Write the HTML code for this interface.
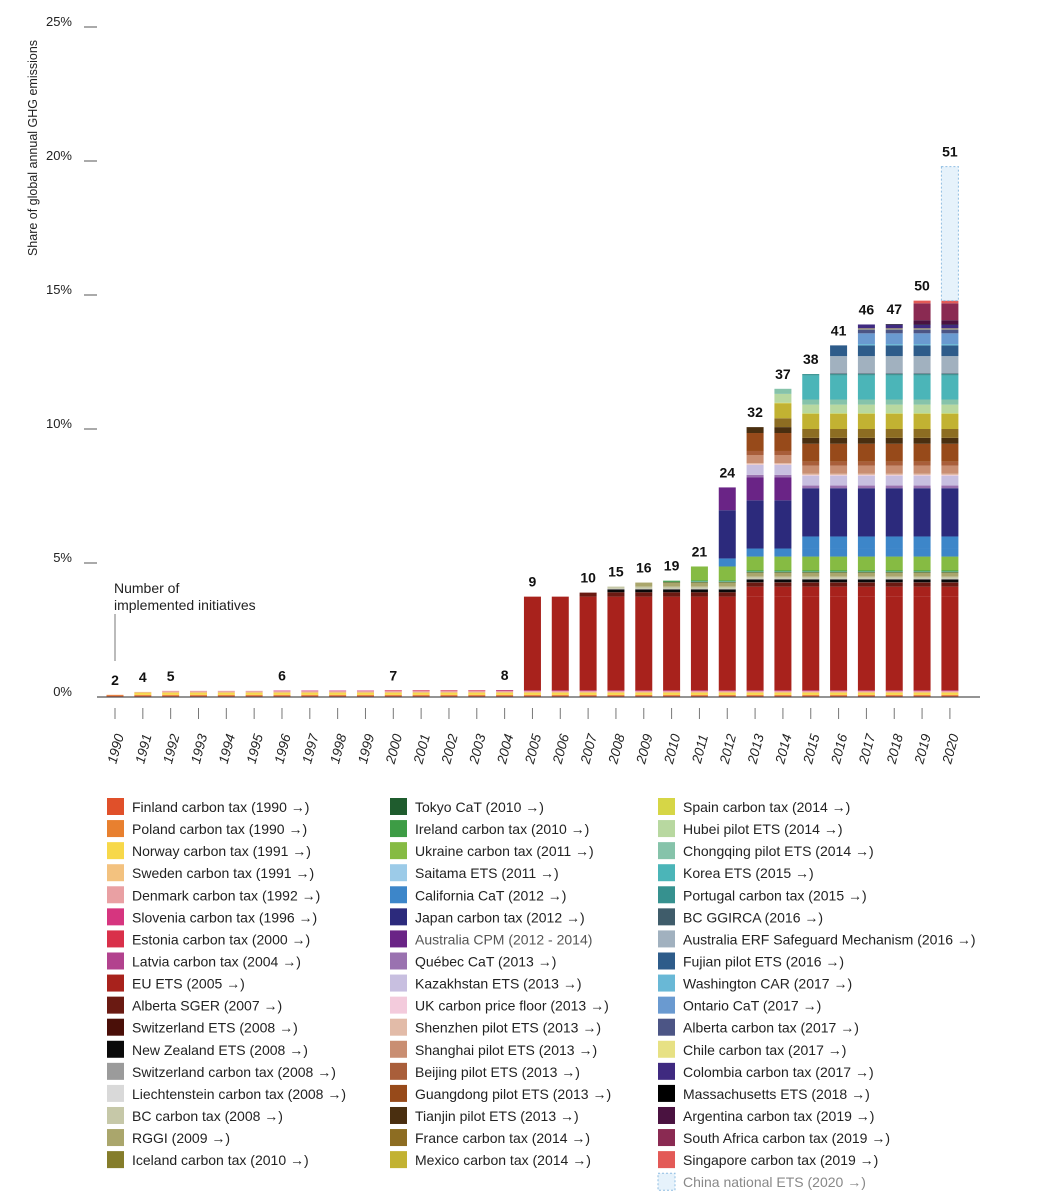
<!DOCTYPE html>
<html><head><meta charset="utf-8">
<style>
body{margin:0;background:#fff;font-family:"Liberation Sans",sans-serif;}
#chart{position:absolute;left:0;top:0;}
</style></head>
<body>
<svg id="chart" width="1059" height="1200" xmlns="http://www.w3.org/2000/svg"></svg>
<script>
const years = [1990,1991,1992,1993,1994,1995,1996,1997,1998,1999,2000,2001,2002,2003,2004,2005,2006,2007,2008,2009,2010,2011,2012,2013,2014,2015,2016,2017,2018,2019,2020];
const counts = [2,4,5,null,null,null,6,null,null,null,7,null,null,null,8,9,null,10,15,16,19,21,24,32,37,38,41,46,47,50,51];
const yTicks = [0,5,10,15,20,25];
// stacked series (bottom-up): name, color, start year, end year, share (% of global GHG)
const seriesNames = ["Finland","Poland","Norway","Sweden","Denmark","Slovenia","Estonia","Latvia","EU ETS","EU ETS 2013 expansion","Alberta SGER","Switzerland ETS","New Zealand ETS","Switzerland tax","Liechtenstein","BC tax","RGGI","Iceland","Tokyo","Saitama","Ireland","Ukraine","California","California 2015 expansion","Japan","Australia CPM","Quebec","Kazakhstan","UK","Shenzhen","Shanghai","Beijing","Guangdong","Tianjin","France","Mexico","Spain","Hubei","Chongqing","Korea","Portugal","BC GGIRCA","Australia ERF","Fujian","Washington","Ontario","Alberta tax","Chile","Colombia","Massachusetts","Argentina","South Africa","Singapore","China"];
const seriesColors = ["#e0502a","#e8802f","#f7d84a","#f3c27f","#e9a0a3","#d6357f","#d9304a","#b2428e","#a8221c","#a8221c","#6a1a12","#4a0f08","#0a0a0a","#9b9b9b","#d9d9d9","#c6c8a8","#aaa66c","#857d2b","#1f5c2e","#9ccbe8","#3d9c45","#86bb43","#3d86c9","#3d86c9","#2c2a7c","#6a2486","#9a72b0","#c8bfe0","#f3cbdc","#e2bba8","#c98e72","#a95e3a","#974a1a","#4a2f10","#8d6d22","#c2b232","#d6d646","#b8d8a0","#86c3aa","#4bb5b8","#36918f","#3f5c6a","#a1b1bf","#2e5c8a","#69b8d6","#6a9ad0","#4c5585","#e7e184","#3f2a80","#000000","#4a1240","#8a2a52","#e35a57","#e6f2fb"];
const seriesStart = [1990,1990,1991,1991,1992,1996,2000,2004,2005,2013,2007,2008,2008,2008,2008,2008,2009,2010,2010,2011,2010,2011,2012,2015,2012,2012,2013,2013,2013,2013,2013,2013,2013,2013,2014,2014,2014,2014,2014,2015,2015,2016,2016,2016,2017,2017,2017,2017,2017,2018,2019,2019,2019,2020];
const seriesEnd = [2020,2020,2020,2020,2020,2020,2020,2020,2020,2020,2020,2020,2020,2020,2020,2020,2020,2020,2020,2020,2020,2020,2020,2020,2020,2014,2020,2020,2020,2020,2020,2020,2020,2020,2020,2020,2020,2020,2020,2020,2020,2020,2020,2020,2020,2020,2020,2020,2020,2020,2020,2020,2020,2020];
const seriesShare = [0.05,0.03,0.07,0.04,0.04,0.01,0.01,0.005,3.49,0.37,0.15,0.02,0.1,0.02,0.005,0.08,0.15,0.01,0.02,0.01,0.04,0.52,0.3,0.45,1.8,0.85,0.1,0.37,0.02,0.05,0.3,0.15,0.67,0.22,0.33,0.56,0.02,0.33,0.19,0.9,0.05,0.02,0.65,0.4,0.05,0.4,0.15,0.03,0.15,0.01,0.15,0.63,0.1,5.0];
const legendNames = ["Finland carbon tax (1990 →)","Poland carbon tax (1990 →)","Norway carbon tax (1991 →)","Sweden carbon tax (1991 →)","Denmark carbon tax (1992 →)","Slovenia carbon tax (1996 →)","Estonia carbon tax (2000 →)","Latvia carbon tax (2004 →)","EU ETS (2005 →)","Alberta SGER (2007 →)","Switzerland ETS (2008 →)","New Zealand ETS (2008 →)","Switzerland carbon tax (2008 →)","Liechtenstein carbon tax (2008 →)","BC carbon tax (2008 →)","RGGI (2009 →)","Iceland carbon tax (2010 →)",
"Tokyo CaT (2010 →)","Ireland carbon tax (2010 →)","Ukraine carbon tax (2011 →)","Saitama ETS (2011 →)","California CaT (2012 →)","Japan carbon tax (2012 →)","Australia CPM (2012 - 2014)","Québec CaT (2013 →)","Kazakhstan ETS (2013 →)","UK carbon price floor (2013 →)","Shenzhen pilot ETS (2013 →)","Shanghai pilot ETS (2013 →)","Beijing pilot ETS (2013 →)","Guangdong pilot ETS (2013 →)","Tianjin pilot ETS (2013 →)","France carbon tax (2014 →)","Mexico carbon tax (2014 →)",
"Spain carbon tax (2014 →)","Hubei pilot ETS (2014 →)","Chongqing pilot ETS (2014 →)","Korea ETS (2015 →)","Portugal carbon tax (2015 →)","BC GGIRCA (2016 →)","Australia ERF Safeguard Mechanism (2016 →)","Fujian pilot ETS (2016 →)","Washington CAR (2017 →)","Ontario CaT (2017 →)","Alberta carbon tax (2017 →)","Chile carbon tax (2017 →)","Colombia carbon tax (2017 →)","Massachusetts ETS (2018 →)","Argentina carbon tax (2019 →)","South Africa carbon tax (2019 →)","Singapore carbon tax (2019 →)","China national ETS (2020 →)"];
const legendColors = ["#e0502a","#e8802f","#f7d84a","#f3c27f","#e9a0a3","#d6357f","#d9304a","#b2428e","#a8221c","#6a1a12","#4a0f08","#0a0a0a","#9b9b9b","#d9d9d9","#c6c8a8","#aaa66c","#857d2b",
"#1f5c2e","#3d9c45","#86bb43","#9ccbe8","#3d86c9","#2c2a7c","#6a2486","#9a72b0","#c8bfe0","#f3cbdc","#e2bba8","#c98e72","#a95e3a","#974a1a","#4a2f10","#8d6d22","#c2b232",
"#d6d646","#b8d8a0","#86c3aa","#4bb5b8","#36918f","#3f5c6a","#a1b1bf","#2e5c8a","#69b8d6","#6a9ad0","#4c5585","#e7e184","#3f2a80","#000000","#4a1240","#8a2a52","#e35a57","#e6f2fb"];

const NS="http://www.w3.org/2000/svg";
const svg=document.getElementById('chart');
const Y0=697, PX=26.8, X0=115, STEP=27.83, BW=17;
const yScale=v=>Y0-v*PX;
const xScale=yr=>X0+(yr-1990)*STEP;
function mk(tag,attrs,parent){const e=document.createElementNS(NS,tag);for(const k in attrs)e.setAttribute(k,attrs[k]);(parent||svg).appendChild(e);return e;}

// y axis
yTicks.forEach(t=>{
  const g=mk('g',{});
  
  
  const y=yScale(t);
  if(t>0){mk('line',{x1:84,x2:97,y1:y,y2:y,stroke:'#555','stroke-width':1},g);}
  const tx=mk('text',{x:72,y:y-1,'text-anchor':'end','font-size':13,fill:'#222'},g);
  tx.textContent=t+'%';
});
const yt=mk('text',{x:0,y:0,transform:'translate(37,148) rotate(-90)','text-anchor':'middle','font-size':12.5,fill:'#222'});


yt.textContent='Share of global annual GHG emissions';

// bars
years.forEach((yr,i)=>{
  const g=mk('g',{});
  
  
  let cum=0;
  seriesNames.forEach((nm,s)=>{
    if(yr<seriesStart[s]||yr>seriesEnd[s])return;
    const v=seriesShare[s];
    const yTop=yScale(cum+v), yBot=yScale(cum);
    const r=mk('rect',{x:xScale(yr)-BW/2,y:yTop,width:BW,height:Math.max(yBot-yTop,0.5),fill:seriesColors[s]},g);
    if(nm==='China'){r.setAttribute('stroke','#8fbde2');r.setAttribute('stroke-dasharray','2,2');r.setAttribute('stroke-width','1');}
    
    
    cum+=v;
  });
  if(counts[i]!==null){
    const c=mk('text',{x:xScale(yr),y:yScale(cum)-10,'text-anchor':'middle','font-size':14,'font-weight':'bold',fill:'#111'});
    
    
    c.textContent=counts[i];
  }
  const tk=mk('line',{x1:xScale(yr),x2:xScale(yr),y1:708,y2:719,stroke:'#777','stroke-width':1});
  
  
  const lb=mk('text',{x:0,y:0,transform:'translate('+(xScale(yr)+5)+',750) rotate(-75)','text-anchor':'middle','font-size':13.5,'font-style':'italic',fill:'#222'});
  
  
  lb.textContent=yr;
});
const bl=mk('line',{x1:97,x2:980,y1:Y0,y2:Y0,stroke:'#555','stroke-width':1.3});



// annotation
const an=mk('g',{});


const a1=mk('text',{x:114,y:593,'font-size':14,fill:'#222'},an);a1.textContent='Number of';
const a2=mk('text',{x:114,y:610,'font-size':14,fill:'#222'},an);a2.textContent='implemented initiatives';
mk('line',{x1:115,x2:115,y1:614,y2:661,stroke:'#777','stroke-width':1},an);

// legend
const colX=[107,390,658], rowY0=798, rowStep=22.07;
legendNames.forEach((nm,i)=>{
  const col=i<17?0:(i<34?1:2), row=i<17?i:(i<34?i-17:i-34);
  const g=mk('g',{});
  
  
  const x=colX[col], y=rowY0+row*rowStep;
  const sw=mk('rect',{x:x,y:y,width:17,height:17,fill:legendColors[i]},g);
  if(i===legendNames.length-1){sw.setAttribute('stroke','#8fbde2');sw.setAttribute('stroke-dasharray','2,2');}
  const t=mk('text',{x:x+25,y:y+14,'font-size':14,fill:(nm.startsWith('Australia CPM')?'#555':(nm.startsWith('China')?'#888':'#222'))},g);
  t.textContent=nm;
});
</script>
</body></html>
